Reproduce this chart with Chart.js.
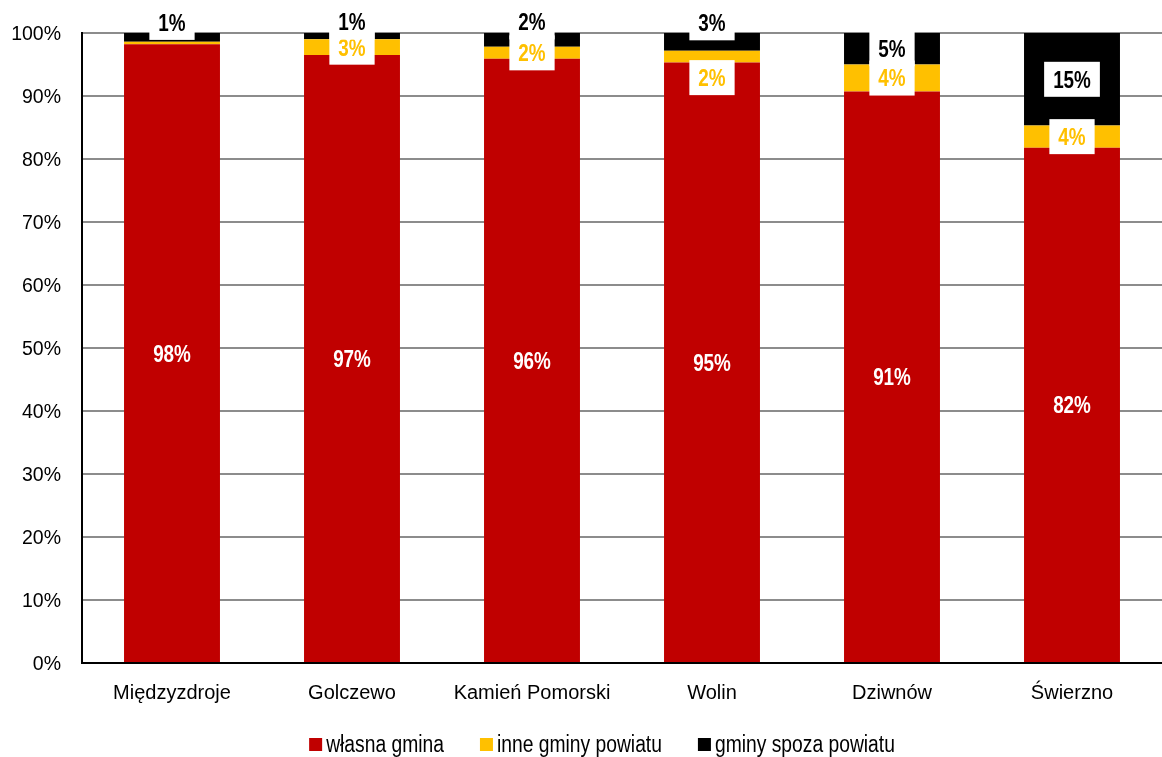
<!DOCTYPE html>
<html>
<head>
<meta charset="utf-8">
<script src="https://cdn.jsdelivr.net/npm/chart.js@4.4.0/dist/chart.umd.min.js"></script>
<style>
  body { margin: 0; background: #fff; }
  #wrap { width: 1162px; height: 757px; position: relative; }
</style>
</head>
<body>
<div id="wrap"><canvas id="chart"></canvas></div>
<script>
// gminy
const categories = ['Międzyzdroje', 'Golczewo', 'Kamień Pomorski', 'Wolin', 'Dziwnów', 'Świerzno'];

// udziały w %
const wlasnaGmina = [98.2, 96.5, 95.9, 95.3, 90.7, 81.8];
const inneGminyPowiatu = [0.4, 2.5, 1.9, 1.9, 4.3, 3.5];
const gminySpozaPowiatu = [1.4, 1.0, 2.2, 2.8, 5.0, 14.7];

const yTicks = [0, 10, 20, 30, 40, 50, 60, 70, 80, 90, 100];

const FONT = '"Liberation Sans", Arial, sans-serif';
const NARROW = 0.82; // udaje Arial Narrow

// przesunięcia etykiet (px) tam, gdzie segment jest za mały
const labelShift = [
  [0, 0, 0, 0, 0, 0],
  [0, 0, 0, 21, 0, 0],
  [-15, -14, -18, -19, 0, 0]
];

function narrowText(ctx, txt, x, y) {
  ctx.save();
  ctx.translate(x, y);
  ctx.scale(NARROW, 1);
  ctx.fillText(txt, 0, 0);
  ctx.restore();
}

const barLabels = {
  id: 'barLabels',
  afterDatasetsDraw(chart) {
    const ctx = chart.ctx;
    ctx.save();
    ctx.font = 'bold 23px ' + FONT;
    ctx.textAlign = 'center';
    ctx.textBaseline = 'middle';
    chart.data.datasets.forEach((ds, di) => {
      const meta = chart.getDatasetMeta(di);
      meta.data.forEach((bar, i) => {
        const v = ds.data[i];
        if (v < 1) return;
        const txt = Math.round(v) + '%';
        const y = (bar.y + bar.base) / 2 + labelShift[di][i];
        if (di === 0) {
          ctx.fillStyle = '#ffffff';
          narrowText(ctx, txt, bar.x, y + 2);
          return;
        }
        const w = ctx.measureText(txt).width * NARROW + 18;
        const h = 35;
        ctx.fillStyle = '#ffffff';
        ctx.fillRect(bar.x - w / 2, y - h / 2, w, h);
        ctx.fillStyle = ds.labelColor;
        narrowText(ctx, txt, bar.x, y + 2);
      });
    });
    ctx.restore();
  },
  // legenda pod osią
  afterDraw(chart) {
    const ctx = chart.ctx;
    ctx.save();
    ctx.font = '23.5px ' + FONT;
    ctx.textBaseline = 'middle';
    ctx.textAlign = 'left';
    const box = 13, gap = 4, itemGap = 36;
    const items = chart.data.datasets.map(ds => ({
      text: ds.label, color: ds.backgroundColor, w: ctx.measureText(ds.label).width * NARROW
    }));
    const total = items.reduce((s, it) => s + box + gap + it.w, 0) + itemGap * (items.length - 1);
    let x = chart.width / 2 + 21 - total / 2;
    const y = 745;
    items.forEach(it => {
      ctx.fillStyle = it.color;
      ctx.fillRect(x, y - 7, box, box);
      ctx.fillStyle = '#000';
      ctx.save();
      ctx.translate(x + box + gap, y + 1);
      ctx.scale(NARROW, 1);
      ctx.fillText(it.text, 0, 0);
      ctx.restore();
      x += box + gap + it.w + itemGap;
    });
    ctx.restore();
  }
};

new Chart(document.getElementById('chart'), {
  type: 'bar',
  data: {
    labels: categories,
    datasets: [
      { label: 'własna gmina', data: wlasnaGmina, backgroundColor: '#c00000', labelColor: '#ffffff' },
      { label: 'inne gminy powiatu', data: inneGminyPowiatu, backgroundColor: '#ffc000', labelColor: '#ffc000' },
      { label: 'gminy spoza powiatu', data: gminySpozaPowiatu, backgroundColor: '#000000', labelColor: '#000000' }
    ]
  },
  options: {
    responsive: true,
    maintainAspectRatio: false,
    animation: false,
    layout: { padding: { top: 33, right: 0, left: 0, bottom: 0 } },
    datasets: { bar: { categoryPercentage: 1, barPercentage: 0.533 } },
    plugins: {
      legend: { display: false },
      tooltip: { enabled: false }
    },
    scales: {
      x: {
        stacked: true,
        afterFit(scale) { scale.height = 94; },
        grid: { display: false, drawTicks: false },
        border: { color: '#000', width: 2 },
        ticks: { color: '#000', font: { family: FONT, size: 20 }, padding: 18, maxRotation: 0 }
      },
      y: {
        stacked: true,
        min: 0,
        max: 100,
        afterFit(scale) { scale.width = 82; },
        afterBuildTicks(scale) { scale.ticks = yTicks.map(v => ({ value: v })); },
        grid: { color: '#8c8c8c', lineWidth: 2, drawTicks: false },
        border: { color: '#000', width: 2 },
        ticks: {
          color: '#000',
          font: { family: FONT, size: 19.5 },
          padding: 21,
          labelOffset: 2,
          callback: v => v + '%'
        }
      }
    }
  },
  plugins: [barLabels]
});
</script>
</body>
</html>
